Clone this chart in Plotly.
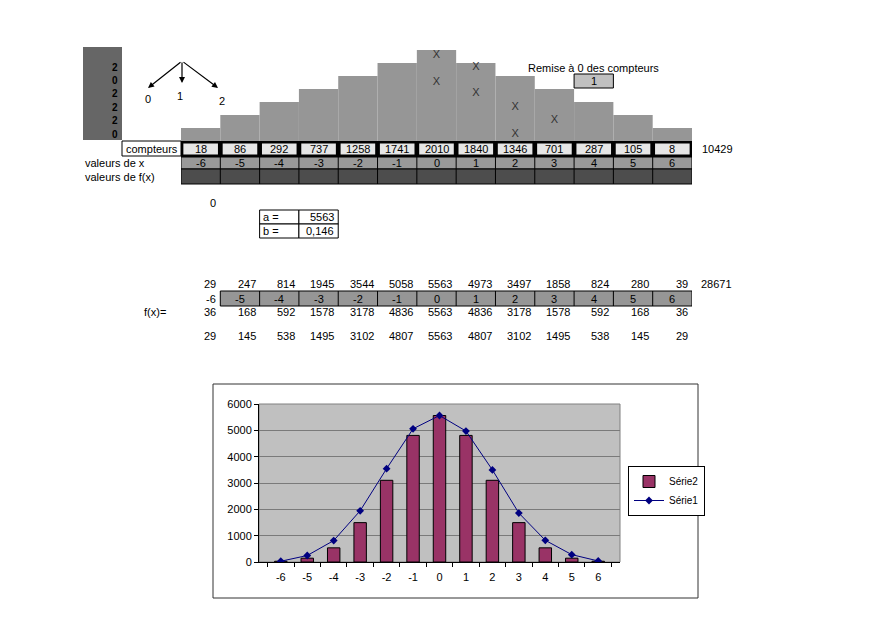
import plotly.graph_objects as go

# ---------------- data ----------------
x_values = [-6, -5, -4, -3, -2, -1, 0, 1, 2, 3, 4, 5, 6]
compteurs = [18, 86, 292, 737, 1258, 1741, 2010, 1840, 1346, 701, 287, 105, 8]
total_compteurs = "10429"
serie1 = [29, 247, 814, 1945, 3544, 5058, 5563, 4973, 3497, 1858, 824, 280, 39]
total_serie1 = "28671"
fx_values = [36, 168, 592, 1578, 3178, 4836, 5563, 4836, 3178, 1578, 592, 168, 36]
serie2 = [29, 145, 538, 1495, 3102, 4807, 5563, 4807, 3102, 1495, 538, 145, 29]
stair_levels = [1, 2, 3, 4, 5, 6, 7, 6, 5, 4, 3, 2, 1]
ball_x = [0, 1, 0, 1, 2, 3, 2]
ball_y = [6.6, 5.65, 4.55, 3.65, 2.6, 1.6, 0.55]
left_digits = ["2", "0", "2", "2", "2", "0"]
param_a = "5563"
param_b = "0,146"
remise_value = "1"
y_ticks = [0, 1000, 2000, 3000, 4000, 5000, 6000]

W, H = 883, 627
FONT = "Liberation Sans, Arial, sans-serif"


def py(p):
    return (H - p) / H


def px(p):
    return p / W


cats = [str(v) for v in x_values]
fig = go.Figure()

# staircase (Galton board background)
fig.add_trace(go.Bar(x=x_values, y=stair_levels, xaxis="x3", yaxis="y4", width=1,
                     marker=dict(color="#969696", line=dict(width=0)),
                     showlegend=False, hoverinfo="skip"))
fig.add_trace(go.Scatter(x=ball_x, y=ball_y, mode="text", text=["X"] * len(ball_x),
                         xaxis="x3", yaxis="y4", textfont=dict(size=11, color="#333333", family=FONT),
                         showlegend=False, hoverinfo="skip", cliponaxis=False))
fig.add_trace(go.Scatter(x=[], y=[], xaxis="x2", yaxis="y2", showlegend=False))

# chart
fig.add_trace(go.Bar(x=cats, y=serie2, name="Série2", width=0.47,
                     marker=dict(color="#993366", line=dict(color="black", width=1))))
fig.add_trace(go.Scatter(x=cats, y=serie1, name="Série1", mode="lines+markers",
                         line=dict(color="#000080", width=1),
                         marker=dict(symbol="diamond", size=6, color="#000080")))

shapes = []
ann = []


def text(x, y, t, xref="x2", yref="y2", xanchor="center", size=11, color="black", bold=False):
    if bold:
        t = "<b>" + t + "</b>"
    ann.append(dict(x=x, y=y, xref=xref, yref=yref, text=t, showarrow=False,
                    xanchor=xanchor, yanchor="middle", font=dict(size=size, color=color, family=FONT)))


def rect(x0, x1, y0, y1, fill, line="black", lw=1, xref="x3", yref="y2"):
    shapes.append(dict(type="rect", xref=xref, yref=yref, x0=x0, x1=x1, y0=y0, y1=y1,
                       fillcolor=fill, line=dict(color=line, width=lw), layer="above"))


def vline(x, y0, y1, xref="x3", color="black", lw=1):
    shapes.append(dict(type="line", xref=xref, yref="y2", x0=x, x1=x, y0=y0, y1=y1,
                       line=dict(color=color, width=lw), layer="above"))


# left dark block with digits
rect(83, 122, 47, 140, "#666666", line="#666666", lw=0, xref="x2")
for i, d in enumerate(left_digits):
    text(120, 67 + i * 13.4, d, xanchor="right", bold=True, size=10)

# arrows
for hx, hy in [(148, 88), (182, 83), (218, 88)]:
    ann.append(dict(x=hx, y=hy, ax=182, ay=61, xref="x2", yref="y2", axref="x2", ayref="y2",
                    text="", showarrow=True, arrowhead=2, arrowsize=1, arrowwidth=1.2,
                    arrowcolor="black"))
text(148, 99, "0")
text(180, 96, "1")
text(222, 101, "2")

# compteurs row
rect(-6.5, 6.5, 141, 157, "black", lw=0)
for x in x_values:
    rect(x - 0.44, x + 0.44, 143.5, 154.5, "#e6e6e6", lw=0)
rect(122, 181, 141, 156, "white", xref="x2")
text(124, 148.5, "compteurs", xanchor="left")
for x, c in zip(x_values, compteurs):
    text(x, 149, str(c), xref="x3")
text(700, 149, total_compteurs, xanchor="left")

# valeurs de x row
rect(-6.5, 6.5, 157, 169, "#999999", lw=1)
rect(-6.5, 6.5, 169, 184, "#4d4d4d", lw=1)
for x in x_values[:-1]:
    vline(x + 0.5, 157, 184)
for x in x_values:
    text(x, 163, str(x), xref="x3")
text(83, 163, "valeurs de x", xanchor="left")
text(83, 177, "valeurs de f(x)", xanchor="left")

# remise
text(593, 68, "Remise à 0 des compteurs")
rect(3.5, 4.5, 74, 88, "#c0c0c0")
text(4, 81, remise_value, xref="x3")

# 0 and a/b table
text(-5.55, 203, "0", xref="x3", xanchor="right")
for (y0, y1) in [(210, 224), (224, 238)]:
    rect(-4.5, -3.5, y0, y1, "white")
    rect(-3.5, -2.5, y0, y1, "white")
text(-4.47, 217, "a =", xref="x3", xanchor="left")
text(-2.55, 217, param_a, xref="x3", xanchor="right")
text(-4.47, 231, "b =", xref="x3", xanchor="left")
text(-2.55, 231, param_b, xref="x3", xanchor="right")

# second table
rect(-5.5, 6.5, 291, 306, "#969696")
for x in x_values[1:-1]:
    vline(x + 0.5, 291, 306)
for x, v in zip(x_values, serie1):
    text(x + 0.45, 284, str(v), xref="x3", xanchor="right")
text(699, 284, total_serie1, xanchor="left")
text(-5.55, 298.5, str(x_values[0]), xref="x3", xanchor="right")
for x in x_values[1:]:
    text(x, 298.5, str(x), xref="x3")
text(142, 312, "f(x)=", xanchor="left")
for x, v in zip(x_values, fx_values):
    text(x + 0.45, 312, str(v), xref="x3", xanchor="right")
for x, v in zip(x_values, serie2):
    text(x + 0.45, 336, str(v), xref="x3", xanchor="right")

# chart frame and plot background
shapes.append(dict(type="rect", xref="paper", yref="paper", x0=px(213), x1=px(698),
                   y0=py(598), y1=py(384), line=dict(color="#333333", width=1), layer="above"))
shapes.append(dict(type="rect", xref="x domain", yref="y domain", x0=0, x1=1, y0=0, y1=1,
                   fillcolor="#c0c0c0", line=dict(color="#808080", width=1), layer="below"))

hidden = dict(visible=False, fixedrange=True, automargin=False)
fig.update_layout(
    width=W, height=H, margin=dict(l=0, r=0, t=0, b=0, pad=0, autoexpand=False), autosize=False,
    paper_bgcolor="white", plot_bgcolor="rgba(0,0,0,0)",
    font=dict(family=FONT, size=11, color="black"),
    shapes=shapes, annotations=ann,
    xaxis=dict(domain=[px(259), px(620)], anchor="y", type="category", tickson="boundaries",
               ticks="outside", ticklen=4, tickcolor="black", showline=True, linecolor="black",
               showgrid=False, tickfont=dict(size=11), fixedrange=True, automargin=False,
               ticklabelstandoff=5),
    yaxis=dict(domain=[py(562), py(404)], anchor="x", range=[0, 6000], tickvals=y_ticks,
               ticks="outside", ticklen=4, tickcolor="black", showline=True, linecolor="black",
               showgrid=True, gridcolor="#7a7a7a", gridwidth=1, zeroline=False,
               tickfont=dict(size=11), fixedrange=True, automargin=False),
    xaxis2=dict(domain=[0, 1], range=[0, W], anchor="y2", **hidden),
    yaxis2=dict(domain=[0, 1], range=[H, 0], anchor="x2", **hidden),
    xaxis3=dict(domain=[px(181), px(692)], range=[-6.5, 6.5], anchor="y2", **hidden),
    yaxis4=dict(domain=[py(141), 1], range=[0, 141 / 13], anchor="x3", **hidden),
    legend=dict(x=px(628), y=py(466), xanchor="left", yanchor="top", bgcolor="white",
                bordercolor="black", borderwidth=1, font=dict(size=10), tracegroupgap=0,
                itemwidth=30),
    showlegend=True,
)

fig.write_html("out.html", config={"displayModeBar": False},
               post_script="document.body.style.margin='0';document.body.style.overflow='hidden';")
